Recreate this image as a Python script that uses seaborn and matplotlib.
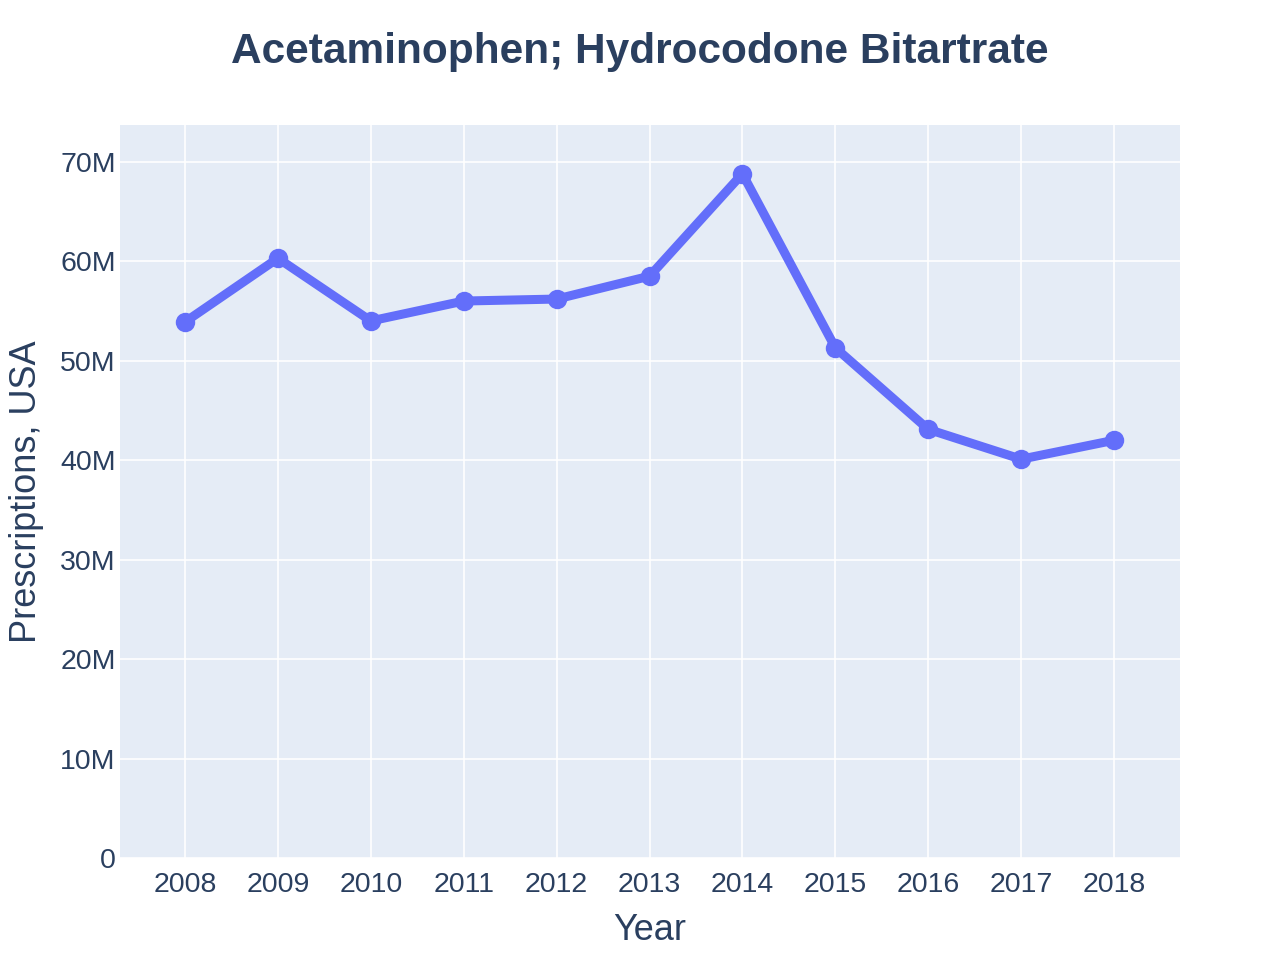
import matplotlib
matplotlib.use("Agg")
import matplotlib.pyplot as plt
import seaborn as sns
import pandas as pd
from matplotlib.ticker import FuncFormatter

years = [2008, 2009, 2010, 2011, 2012, 2013, 2014, 2015, 2016, 2017, 2018]
prescriptions = [53.9e6, 60.3e6, 54.0e6, 56.0e6, 56.2e6, 58.5e6, 68.8e6, 51.3e6, 43.1e6, 40.1e6, 42.0e6]
title = "Acetaminophen; Hydrocodone Bitartrate"
x_label = "Year"
y_label = "Prescriptions, USA"

df = pd.DataFrame({"Year": years, "Prescriptions": prescriptions})

sns.set_theme(style="darkgrid")
plt.rcParams['font.family'] = ['Liberation Sans', 'DejaVu Sans']
text_color = "#2a3f5f"

fig = plt.figure(figsize=(12.8, 9.6), dpi=100)
ax = fig.add_axes([120/1280, 102/960, 1060/1280, 733/960])
ax.set_facecolor("#E5ECF6")

sns.lineplot(data=df, x="Year", y="Prescriptions", ax=ax, color="#636EFA",
             linewidth=6.5, marker="o", markersize=14, markeredgewidth=0)

ax.set_xlim(2007.3, 2018.71)
ax.set_ylim(0, 73.7e6)
ax.set_xticks(years)
ax.set_xticklabels([str(y) for y in years])
ax.set_yticks([0, 10e6, 20e6, 30e6, 40e6, 50e6, 60e6, 70e6])
ax.yaxis.set_major_formatter(FuncFormatter(lambda v, p: "0" if v == 0 else f"{int(v/1e6)}M"))
ax.grid(True, color="white", linewidth=1.2)
for s in ax.spines.values():
    s.set_visible(False)
ax.tick_params(axis="both", colors=text_color, labelsize=20.5, length=0)
ax.tick_params(axis="x", pad=10)
ax.tick_params(axis="y", pad=3)
ax.set_xlabel(x_label, fontsize=26, color=text_color, labelpad=11)
ax.set_ylabel(y_label, fontsize=26, color=text_color, labelpad=12)
fig.suptitle(title, fontsize=30.5, fontweight="bold", color=text_color, y=0.967)

fig.savefig("out.png", dpi=100, facecolor="white")
